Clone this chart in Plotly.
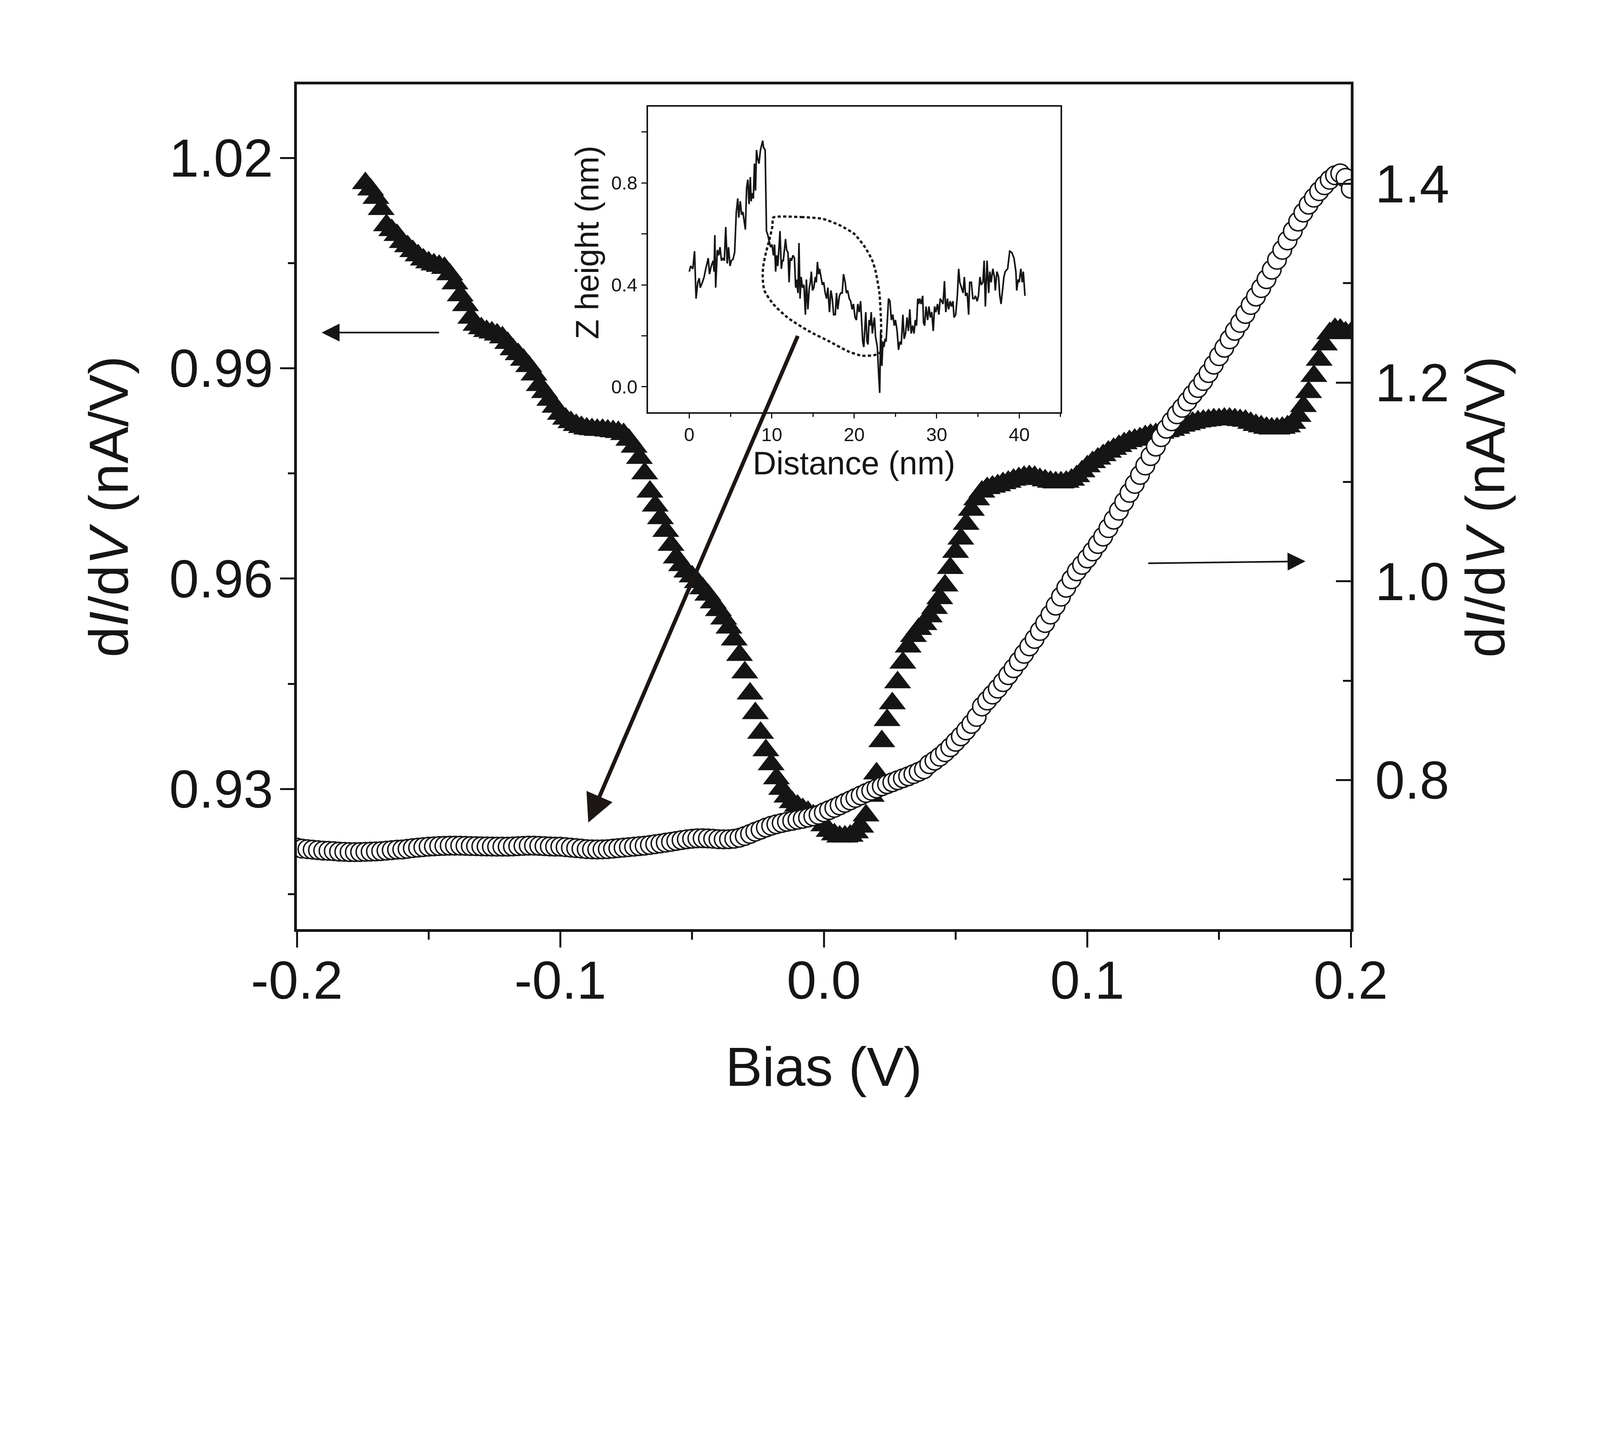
import plotly.graph_objects as go

# ---------------- data ----------------
# triangles: dI/dV on left axis, bias from -0.174 V to 0.200 V in 0.002 V steps
tri_start, tri_step = -0.174, 0.002
tri_didv = [
    1.0164, 1.0155, 1.0143, 1.0127, 1.0104, 1.0097, 1.0090, 1.0080, 1.0074, 1.0067,
    1.0061, 1.0055, 1.0051, 1.0048, 1.0046, 1.0043, 1.0034, 1.0021, 1.0004, 0.9990,
    0.9972, 0.9962, 0.9957, 0.9953, 0.9951, 0.9948, 0.9944, 0.9936, 0.9927, 0.9920,
    0.9912, 0.9903, 0.9891, 0.9876, 0.9866, 0.9855, 0.9845, 0.9835, 0.9828, 0.9823,
    0.9819, 0.9816, 0.9814, 0.9813, 0.9812, 0.9812, 0.9811, 0.9810, 0.9809, 0.9806,
    0.9798, 0.9788, 0.9772, 0.9750, 0.9724, 0.9704, 0.9686, 0.9668, 0.9648, 0.9630,
    0.9619, 0.9610, 0.9603, 0.9595, 0.9586, 0.9577, 0.9566, 0.9555, 0.9543, 0.9530,
    0.9513, 0.9491, 0.9466, 0.9436, 0.9408, 0.9380, 0.9355, 0.9335, 0.9315, 0.9300,
    0.9289, 0.9281, 0.9276, 0.9271, 0.9267, 0.9262, 0.9256, 0.9248, 0.9240, 0.9235,
    0.9232, 0.9232, 0.9233, 0.9238, 0.9246, 0.9262, 0.9290, 0.9322, 0.9368, 0.9398,
    0.9422, 0.9452, 0.9480, 0.9503, 0.9518, 0.9528, 0.9535, 0.9546, 0.9558, 0.9572,
    0.9590, 0.9615, 0.9638, 0.9657, 0.9678, 0.9698, 0.9713, 0.9724, 0.9729, 0.9731,
    0.9733, 0.9736, 0.9738, 0.9741, 0.9743, 0.9745, 0.9746, 0.9745, 0.9742, 0.9740,
    0.9738, 0.9737, 0.9737, 0.9738, 0.9741, 0.9746, 0.9753, 0.9760, 0.9766, 0.9771,
    0.9776, 0.9781, 0.9785, 0.9789, 0.9793, 0.9796, 0.9798, 0.9800, 0.9803, 0.9805,
    0.9806, 0.9808, 0.9810, 0.9812, 0.9815, 0.9818, 0.9820, 0.9822, 0.9824, 0.9825,
    0.9826, 0.9827, 0.9827, 0.9828, 0.9828, 0.9827, 0.9826, 0.9825, 0.9822, 0.9819,
    0.9817, 0.9815, 0.9814, 0.9814, 0.9815, 0.9817, 0.9822, 0.9832, 0.9846, 0.9866,
    0.9889, 0.9912, 0.9934, 0.9950, 0.9956, 0.9955, 0.9951, 0.9950,
]
tri_bias = [round(tri_start + tri_step * i, 3) for i in range(len(tri_didv))]

# circles: dI/dV on right axis, bias from -0.200 V to 0.200 V in 0.002 V steps
cir_start, cir_step = -0.200, 0.002
cir_didv = [
    0.7320, 0.7310, 0.7305, 0.7300, 0.7295, 0.7290, 0.7288, 0.7285, 0.7280, 0.7278,
    0.7275, 0.7275, 0.7276, 0.7278, 0.7280, 0.7282, 0.7285, 0.7290, 0.7295, 0.7300,
    0.7302, 0.7308, 0.7315, 0.7320, 0.7325, 0.7330, 0.7333, 0.7336, 0.7338, 0.7340,
    0.7340, 0.7340, 0.7338, 0.7336, 0.7335, 0.7333, 0.7332, 0.7331, 0.7330, 0.7330,
    0.7330, 0.7332, 0.7335, 0.7338, 0.7340, 0.7340, 0.7338, 0.7335, 0.7332, 0.7330,
    0.7330, 0.7325, 0.7320, 0.7315, 0.7310, 0.7305, 0.7303, 0.7302, 0.7303, 0.7305,
    0.7310, 0.7315, 0.7320, 0.7325, 0.7330, 0.7335, 0.7340, 0.7347, 0.7355, 0.7362,
    0.7370, 0.7378, 0.7387, 0.7396, 0.7404, 0.7410, 0.7414, 0.7415, 0.7413, 0.7410,
    0.7405, 0.7404, 0.7405, 0.7410, 0.7420, 0.7437, 0.7458, 0.7480, 0.7500, 0.7522,
    0.7540, 0.7555, 0.7568, 0.7580, 0.7590, 0.7600, 0.7610, 0.7622, 0.7635, 0.7650,
    0.7675, 0.7698, 0.7720, 0.7745, 0.7770, 0.7795, 0.7820, 0.7845, 0.7870, 0.7893,
    0.7915, 0.7937, 0.7958, 0.7978, 0.7998, 0.8018, 0.8038, 0.8060, 0.8083, 0.8108,
    0.8160, 0.8195, 0.8235, 0.8280, 0.8330, 0.8385, 0.8440, 0.8500, 0.8565, 0.8635,
    0.8740, 0.8800, 0.8860, 0.8920, 0.8985, 0.9055, 0.9125, 0.9195, 0.9270, 0.9345,
    0.9420, 0.9500, 0.9580, 0.9665, 0.9755, 0.9845, 0.9935, 1.0020, 1.0100, 1.0165,
    1.0230, 1.0300, 1.0375, 1.0450, 1.0535, 1.0620, 1.0710, 1.0800, 1.0890, 1.0980,
    1.1070, 1.1165, 1.1260, 1.1355, 1.1450, 1.1535, 1.1610, 1.1680, 1.1745, 1.1810,
    1.1880, 1.1945, 1.2015, 1.2095, 1.2180, 1.2265, 1.2350, 1.2435, 1.2520, 1.2600,
    1.2690, 1.2780, 1.2865, 1.2950, 1.3040, 1.3135, 1.3235, 1.3335, 1.3430, 1.3525,
    1.3620, 1.3710, 1.3790, 1.3860, 1.3925, 1.3985, 1.4040, 1.4085, 1.4105, 1.4060,
    1.3950,
]
cir_bias = [round(cir_start + cir_step * i, 3) for i in range(len(cir_didv))]

# inset: line profile, distance (nm) and Z height (nm)
prof_dist = [
    0.0, 0.17, 0.43, 0.64, 0.82, 1.03, 1.2, 1.33, 1.59, 1.8, 2.0, 2.2, 2.3, 2.45, 2.66,
    2.9, 3.0, 3.1, 3.2, 3.4, 3.56, 3.73, 3.9, 4.08, 4.25, 4.42, 4.6, 4.76, 4.94, 5.1,
    5.3, 5.5, 5.7, 5.88, 6.0, 6.18, 6.35, 6.5, 6.7, 6.8, 6.95, 7.1, 7.25, 7.4, 7.5,
    7.64, 7.77, 7.9, 8.03, 8.15, 8.28, 8.45, 8.63, 8.9, 9.0, 9.2, 9.36, 9.53, 9.7, 9.87,
    10.04, 10.2, 10.34, 10.47, 10.6, 10.73, 10.86, 11.0, 11.16, 11.29, 11.4, 11.5, 11.67,
    11.8, 11.97, 12.1, 12.23, 12.4, 12.57, 12.75, 12.9, 13.0, 13.18, 13.3, 13.43, 13.56,
    13.73, 13.9, 14.08, 14.2, 14.38, 14.55, 14.68, 14.8, 14.94, 15.1, 15.28, 15.4, 15.54,
    15.67, 15.8, 15.97, 16.14, 16.3, 16.48, 16.65, 16.8, 17.0, 17.17, 17.34, 17.5, 17.7,
    17.85, 18.0, 18.2, 18.37, 18.54, 18.7, 18.9, 19.05, 19.2, 19.4, 19.57, 19.74, 19.9,
    20.1, 20.26, 20.43, 20.6, 20.77, 20.9, 21.03, 21.16, 21.3, 21.4, 21.55, 21.67, 21.8,
    21.93, 22.06, 22.2, 22.3, 22.45, 22.58, 22.7, 22.8, 22.96, 23.09, 23.2, 23.35, 23.48,
    23.6, 23.74, 23.86, 24.0, 24.16, 24.33, 24.5, 24.68, 24.85, 25.0, 25.2, 25.37, 25.54,
    25.7, 25.9, 26.05, 26.22, 26.4, 26.57, 26.74, 26.9, 27.08, 27.25, 27.4, 27.55, 27.7,
    27.8, 27.94, 28.1, 28.3, 28.4, 28.54, 28.7, 28.9, 29.06, 29.23, 29.4, 29.58, 29.74,
    29.9, 30.1, 30.26, 30.43, 30.6, 30.77, 30.94, 31.1, 31.3, 31.45, 31.63, 31.8, 31.97,
    32.1, 32.3, 32.5, 32.66, 32.8, 33.0, 33.2, 33.35, 33.5, 33.7, 33.87, 34.0, 34.2,
    34.38, 34.55, 34.7, 34.9, 35.06, 35.24, 35.4, 35.6, 35.75, 35.9, 36.1, 36.3, 36.44,
    36.6, 36.8, 37.0, 37.1, 37.3, 37.5, 37.65, 37.8, 38.0, 38.15, 38.3, 38.6, 38.85,
    39.1, 39.37, 39.6, 39.7, 39.87, 40.0, 40.2, 40.37, 40.5, 40.7,
]
prof_z = [
    0.452, 0.474, 0.463, 0.532, 0.346, 0.41, 0.426, 0.389, 0.41, 0.431, 0.463, 0.495,
    0.505, 0.442, 0.474, 0.495, 0.452, 0.595, 0.389, 0.537, 0.516, 0.548, 0.495, 0.505,
    0.495, 0.627, 0.484, 0.548, 0.474, 0.495, 0.50, 0.527, 0.686, 0.739, 0.664, 0.728,
    0.675, 0.686, 0.643, 0.617, 0.781, 0.813, 0.717, 0.823, 0.728, 0.76, 0.739, 0.876,
    0.77, 0.929, 0.897, 0.876, 0.929, 0.966, 0.94, 0.929, 0.611, 0.595, 0.569, 0.548,
    0.558, 0.516, 0.558, 0.452, 0.516, 0.474, 0.537, 0.611, 0.463, 0.495, 0.495, 0.527,
    0.58, 0.537, 0.527, 0.41, 0.505, 0.495, 0.516, 0.505, 0.389, 0.421, 0.368, 0.564,
    0.346, 0.431, 0.389, 0.40, 0.283, 0.421, 0.304, 0.389, 0.41, 0.452, 0.378, 0.389,
    0.431, 0.41, 0.49, 0.442, 0.463, 0.431, 0.40, 0.41, 0.368, 0.346, 0.389, 0.293,
    0.378, 0.346, 0.283, 0.283, 0.368, 0.304, 0.357, 0.368, 0.368, 0.442, 0.41, 0.368,
    0.378, 0.346, 0.336, 0.304, 0.325, 0.272, 0.262, 0.325, 0.293, 0.336, 0.24, 0.177,
    0.156, 0.24, 0.293, 0.177, 0.166, 0.262, 0.24, 0.293, 0.209, 0.24, 0.272, 0.198,
    0.177, 0.156, 0.05, -0.024, 0.219, 0.082, 0.177, 0.156, 0.188, 0.177, 0.251, 0.346,
    0.336, 0.262, 0.283, 0.24, 0.262, 0.219, 0.145, 0.177, 0.166, 0.283, 0.188, 0.209,
    0.272, 0.219, 0.304, 0.209, 0.24, 0.209, 0.262, 0.24, 0.346, 0.325, 0.346, 0.325,
    0.357, 0.251, 0.24, 0.315, 0.262, 0.315, 0.272, 0.293, 0.219, 0.315, 0.293, 0.325,
    0.283, 0.346, 0.336, 0.325, 0.415, 0.293, 0.346, 0.304, 0.336, 0.315, 0.336, 0.272,
    0.283, 0.357, 0.463, 0.41, 0.389, 0.368, 0.431, 0.357, 0.368, 0.283, 0.41, 0.41,
    0.346, 0.346, 0.357, 0.336, 0.357, 0.431, 0.40, 0.41, 0.495, 0.315, 0.495, 0.368,
    0.452, 0.41, 0.463, 0.431, 0.378, 0.452, 0.431, 0.357, 0.325, 0.389, 0.431, 0.452,
    0.463, 0.532, 0.527, 0.505, 0.452, 0.378, 0.421, 0.41, 0.463, 0.41, 0.452, 0.357,
]

# dotted outline drawn on the inset (inset data units)
loop_dist = [10.17, 13.6, 16.2, 18.3, 20.0, 21.3, 22.2, 22.6, 23.05, 23.26, 23.13, 22.4,
             20.9, 19.2, 17.04, 14.46, 11.9, 10.17, 9.1, 8.9, 8.97, 9.3, 9.73, 10.1, 10.17]
loop_z = [0.664, 0.666, 0.659, 0.633, 0.60, 0.548, 0.495, 0.452, 0.368, 0.24, 0.135, 0.124,
          0.122, 0.14, 0.177, 0.219, 0.272, 0.325, 0.378, 0.431, 0.474, 0.527, 0.58, 0.633, 0.664]

x_ticks = [-0.2, -0.1, 0.0, 0.1, 0.2]
x_ticktext = ["-0.2", "-0.1", "0.0", "0.1", "0.2"]
yl_ticks = [0.93, 0.96, 0.99, 1.02]
yl_ticktext = ["0.93", "0.96", "0.99", "1.02"]
yr_ticks = [0.8, 1.0, 1.2, 1.4]
yr_ticktext = ["0.8", "1.0", "1.2", "1.4"]
ins_x_ticks = [0, 10, 20, 30, 40]
ins_y_ticks = [0.0, 0.4, 0.8]
ins_y_ticktext = ["0.0", "0.4", "0.8"]

# ---------------- geometry helpers ----------------
# the page is photographed with a 1.2 device scale; sizes below are in photo pixels
K = 1.2
OFF = 5


def p(v):
    return v / K


def pi(v):
    return int(round(v / K))


W_CSS, H_CSS = 4080, 3040
plot_l, plot_r, plot_t, plot_b = 908, 4146, 255, 2850   # photo pixels
m_l = plot_l / K - OFF
m_t = plot_t / K - OFF
m_r = W_CSS - (plot_r / K - OFF)
m_b = H_CSS - (plot_b / K - OFF)

FONT = "Liberation Sans, Arial, Helvetica, sans-serif"
INK = "#151515"

fig = go.Figure()

fig.add_trace(go.Scatter(
    x=tri_bias, y=tri_didv, mode="markers", xaxis="x", yaxis="y",
    marker=dict(symbol="triangle-up", size=p(72), color=INK, line=dict(width=0)),
    showlegend=False, hoverinfo="skip"))

fig.add_trace(go.Scatter(
    x=cir_bias, y=cir_didv, mode="markers", xaxis="x", yaxis="y2",
    marker=dict(symbol="circle", size=p(57), color="white",
                line=dict(width=p(4.5), color=INK)),
    showlegend=False, hoverinfo="skip"))

fig.add_trace(go.Scatter(
    x=prof_dist, y=prof_z, mode="lines", xaxis="x3", yaxis="y3",
    line=dict(color=INK, width=p(5)), showlegend=False, hoverinfo="skip"))

fig.add_trace(go.Scatter(
    x=loop_dist, y=loop_z, mode="lines", xaxis="x3", yaxis="y3",
    line=dict(color=INK, width=p(7), dash="8px,6px", shape="spline", smoothing=0.6),
    showlegend=False, hoverinfo="skip"))

tick_font = dict(family=FONT, size=p(164), color=INK)
axis_common = dict(showgrid=False, zeroline=False, showline=True, linecolor=INK,
                   tickcolor=INK, tickfont=tick_font)
ins_common = dict(showgrid=False, zeroline=False, showline=True, linecolor=INK,
                  linewidth=p(5), mirror=True, tickcolor=INK,
                  tickfont=dict(family=FONT, size=p(58), color=INK))

fig.update_layout(
    width=W_CSS, height=H_CSS,
    margin=dict(l=m_l, r=m_r, t=m_t, b=m_b, pad=0),
    paper_bgcolor="white", plot_bgcolor="white",
    showlegend=False,
    xaxis=dict(axis_common, range=[-0.2, 0.2], tickmode="array", tickvals=x_ticks,
               ticktext=x_ticktext, ticks="outside", ticklen=p(48), tickwidth=p(6),
               linewidth=p(8), mirror=True, ticklabelstandoff=-pi(40),
               minor=dict(tickmode="array", tickvals=[-0.15, -0.05, 0.05, 0.15],
                          ticks="outside", ticklen=p(24), tickwidth=p(6), tickcolor=INK)),
    yaxis=dict(axis_common, range=[0.91, 1.0305], tickmode="array", tickvals=yl_ticks,
               ticktext=yl_ticktext, ticks="outside", ticklen=p(44), tickwidth=p(6),
               linewidth=p(8), ticklabelstandoff=-pi(12),
               minor=dict(tickmode="array", tickvals=[0.915, 0.945, 0.975, 1.005],
                          ticks="outside", ticklen=p(20), tickwidth=p(6), tickcolor=INK)),
    yaxis2=dict(axis_common, range=[0.65, 1.5], overlaying="y", side="right",
                anchor="x", tickmode="array", tickvals=yr_ticks, ticktext=yr_ticktext,
                ticks="inside", ticklen=p(46), tickwidth=p(6), linewidth=p(8),
                ticklabelstandoff=pi(33),
                minor=dict(tickmode="array", tickvals=[0.7, 0.9, 1.1, 1.3],
                           ticks="inside", ticklen=p(24), tickwidth=p(6), tickcolor=INK)),
    xaxis3=dict(ins_common, domain=[0.3332, 0.7245], anchor="y3", range=[-5, 45],
                tickmode="array", tickvals=ins_x_ticks, ticks="outside", ticklen=p(14),
                tickwidth=p(4),
                minor=dict(tickmode="array", tickvals=[5, 15, 25, 35, 45], ticks="outside",
                           ticklen=p(9), tickwidth=p(4), tickcolor=INK)),
    yaxis3=dict(ins_common, domain=[0.6119, 0.9738], anchor="x3", range=[-0.1, 1.1],
                tickmode="array", tickvals=ins_y_ticks, ticktext=ins_y_ticktext,
                ticks="outside", ticklen=p(16), tickwidth=p(4),
                minor=dict(tickmode="array", tickvals=[0.2, 0.6, 1.0], ticks="outside",
                           ticklen=p(16), tickwidth=p(4), tickcolor=INK)),
)

title_font = dict(family=FONT, size=p(170), color=INK)
ylabel = "d<i>I</i>/d<i>V</i> (nA/V)"
fig.add_annotation(text=ylabel, xref="paper", yref="paper", x=0, y=0.5,
                   xshift=p(329 - 908), textangle=-90, showarrow=False, font=title_font,
                   xanchor="center", yanchor="middle")
fig.add_annotation(text=ylabel, xref="paper", yref="paper", x=1, y=0.5,
                   xshift=p(4559 - 4146), textangle=-90, showarrow=False, font=title_font,
                   xanchor="center", yanchor="middle")
fig.add_annotation(text="Bias (V)", xref="paper", yref="paper", x=0.5, y=0,
                   yshift=-p(3272 - 2850), showarrow=False, font=title_font,
                   xanchor="center", yanchor="middle")

ins_title_font = dict(family=FONT, size=p(100), color=INK)
fig.add_annotation(text="Distance (nm)", xref="x3 domain", yref="y3 domain", x=0.5, y=0,
                   yshift=-p(1418 - 1262), showarrow=False, font=ins_title_font,
                   xanchor="center", yanchor="middle")
fig.add_annotation(text="Z height (nm)", xref="x3 domain", yref="y3", x=0, y=0.567,
                   xshift=p(1800 - 1987), textangle=-90, showarrow=False,
                   font=ins_title_font, xanchor="center", yanchor="middle")

# arrows pointing to the axis each curve belongs to, and from the inset region
fig.add_annotation(x=-0.1906, y=0.9951, ax=-0.1458, ay=0.9951, xref="x", yref="y",
                   axref="x", ayref="y", text="", showarrow=True, arrowhead=2,
                   arrowsize=2.2, arrowwidth=p(5), arrowcolor=INK)
fig.add_annotation(x=0.1828, y=0.96247, ax=0.1229, ay=0.96219, xref="x", yref="y",
                   axref="x", ayref="y", text="", showarrow=True, arrowhead=2,
                   arrowsize=2.2, arrowwidth=p(5), arrowcolor=INK)
fig.add_annotation(x=-0.0894, y=0.9252, ax=-0.0098, ay=0.9947, xref="x", yref="y",
                   axref="x", ayref="y", text="", showarrow=True, arrowhead=2,
                   arrowsize=1.45, arrowwidth=p(12), arrowcolor="#1c1614")

fig.write_html("out.html")
